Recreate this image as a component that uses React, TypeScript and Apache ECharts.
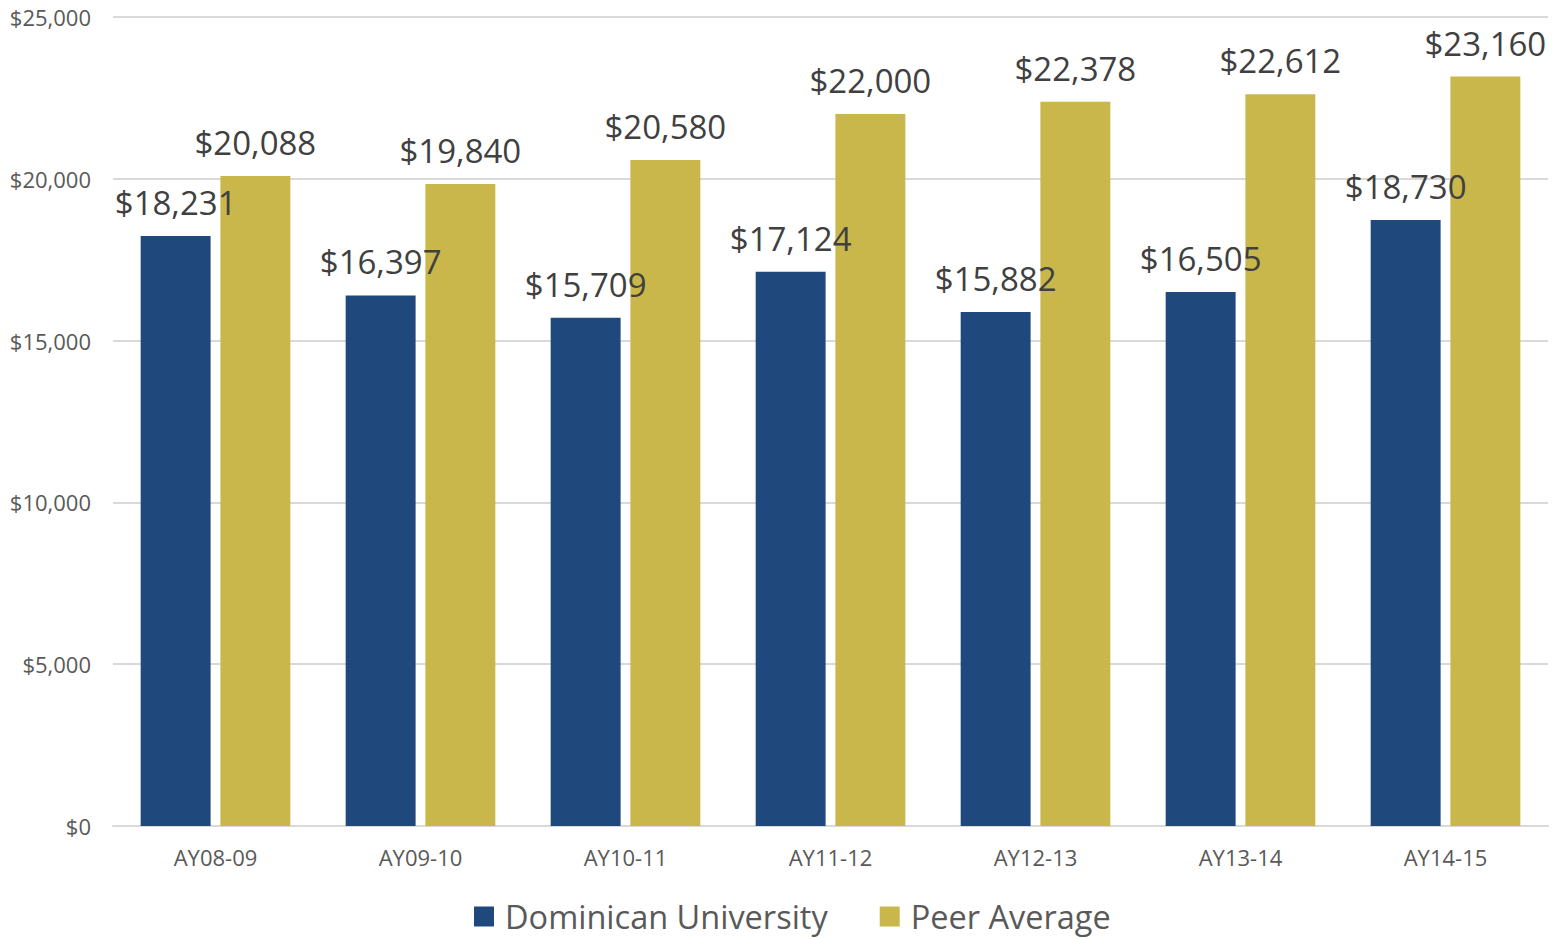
import React, { useEffect, useRef } from "react";
import * as echarts from "echarts";

const categories = ["AY08-09", "AY09-10", "AY10-11", "AY11-12", "AY12-13", "AY13-14", "AY14-15"];
const dominican = [18231, 16397, 15709, 17124, 15882, 16505, 18730];
const peer = [20088, 19840, 20580, 22000, 22378, 22612, 23160];
const seriesNames = ["Dominican University", "Peer Average"];

const fmt = (v: number) => "$" + Number(v).toLocaleString("en-US");

export default function App() {
  const ref = useRef<HTMLDivElement>(null);
  useEffect(() => {
    document.body.style.margin = "0";
    const chart = echarts.init(ref.current!, null, { renderer: "svg" });
    const font = "Open Sans";
    const label = {
      show: true,
      position: "top",
      distance: 17,
      color: "#404040",
      fontSize: 33,
      fontFamily: font,
      formatter: (p: any) => fmt(p.value),
    };
    chart.setOption({
      animation: false,
      backgroundColor: "#ffffff",
      grid: { left: 113, right: 9, top: 17, bottom: 113, containLabel: false },
      legend: {
        data: seriesNames,
        bottom: 1,
        left: 469,
        itemWidth: 20,
        itemHeight: 20,
        itemGap: 52,
        icon: "rect",
        textStyle: { color: "#595959", fontSize: 32.5, fontFamily: font, padding: [0, 0, 0, 6] },
      },
      xAxis: {
        type: "category",
        data: categories,
        axisLine: { lineStyle: { color: "#D9D9D9", width: 2 } },
        axisTick: { show: false },
        axisLabel: { color: "#595959", fontSize: 22, fontFamily: font, margin: 20 },
      },
      yAxis: {
        type: "value",
        min: 0,
        max: 25000,
        interval: 5000,
        axisLine: { show: false },
        axisTick: { show: false },
        splitLine: { lineStyle: { color: "#D9D9D9", width: 2 } },
        axisLabel: { color: "#595959", fontSize: 22, fontFamily: font, margin: 22, formatter: (v: number) => fmt(v) },
      },
      series: [
        {
          name: seriesNames[0],
          type: "bar",
          data: dominican,
          itemStyle: { color: "#1F497D" },
          barGap: "14%",
          barCategoryGap: "27%",
          label,
        },
        {
          name: seriesNames[1],
          type: "bar",
          data: peer,
          itemStyle: { color: "#C9B74C" },
          barGap: "14%",
          barCategoryGap: "27%",
          label,
        },
      ],
    });
    return () => chart.dispose();
  }, []);
  return <div ref={ref} style={{ width: 1557, height: 939 }} />;
}
